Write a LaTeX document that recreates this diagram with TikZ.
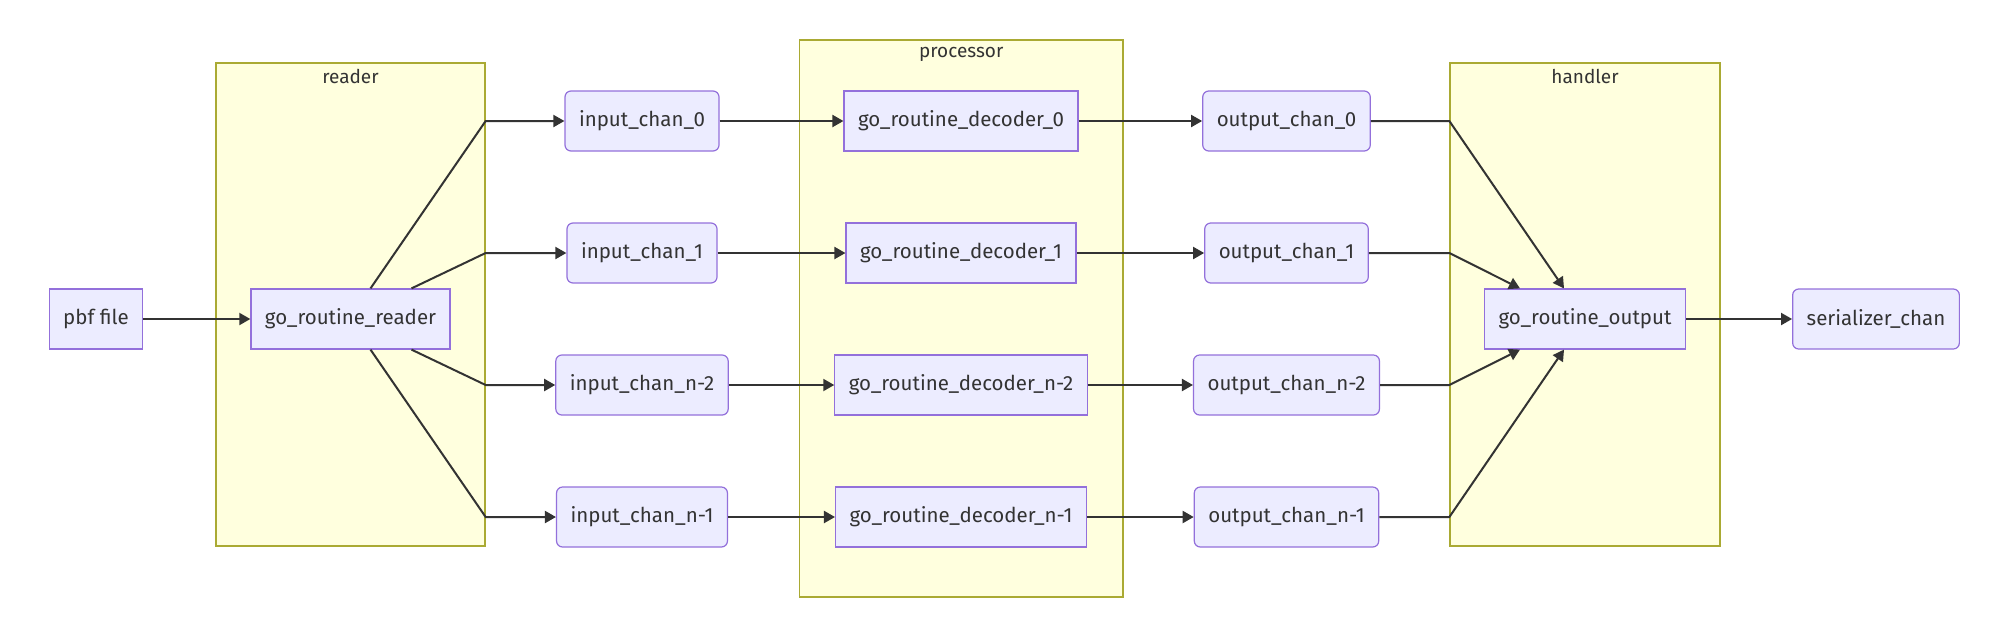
\documentclass[tikz,border=0pt]{standalone}
\usepackage{fontspec}
\setmainfont{Fira Sans}
\usetikzlibrary{arrows.meta,positioning,calc}
\definecolor{nodefill}{HTML}{ECECFF}
\definecolor{nodeline}{HTML}{9370DB}
\definecolor{groupfill}{HTML}{FFFFDE}
\definecolor{groupline}{HTML}{AAAA33}
\definecolor{ink}{HTML}{333333}

\begin{document}
\begin{tikzpicture}[
  x=1pt, y=-1pt,
  font=\fontsize{20.5}{24}\selectfont,
  >={Triangle[length=11pt,width=12pt]},
  routine/.style={
    draw=nodeline,
    fill=nodefill,
    line width=1.2pt,
    text=ink,
    minimum height=60pt,
    inner xsep=14pt
  },
  chan/.style={routine,rounded corners=6pt},
  group/.style={draw=groupline,fill=groupfill,line width=1.3pt,inner sep=0pt},
  title/.style={text=ink,font=\fontsize{19}{22}\selectfont},
  flow/.style={->,draw=ink,line width=2pt}
]
\useasboundingbox (0,0) rectangle (1999,625);
% subgraphs
\node[group,minimum width=269pt,minimum height=483pt] (readerbox) at (350.5,304.5) {};
\node[group,minimum width=323.5pt,minimum height=557pt] (procbox) at (961.25,318.5) {};
\node[group,minimum width=270pt,minimum height=483pt] (handlerbox) at (1585,304.5) {};
\node[title] (readertitle) at ([yshift=-14pt]readerbox.north) {reader};
\node[title] (proctitle) at ([yshift=-15pt]procbox.north) {processor};
\node[title] (handlertitle) at ([yshift=-14pt]handlerbox.north) {handler};
% nodes
\node[routine] (pbf) at (96,319) {pbf file};
\node[routine] (reader) at (350.5,319) {go\_routine\_reader};
\node[chan] (in0) at (642,121) {input\_chan\_0};
\node[chan] (in1) at (642,253) {input\_chan\_1};
\node[chan] (in2) at (642,385) {input\_chan\_n-2};
\node[chan] (in3) at (642,517) {input\_chan\_n-1};
\node[routine] (dec0) at (961,121) {go\_routine\_decoder\_0};
\node[routine] (dec1) at (961,253) {go\_routine\_decoder\_1};
\node[routine] (dec2) at (961,385) {go\_routine\_decoder\_n-2};
\node[routine] (dec3) at (961,517) {go\_routine\_decoder\_n-1};
\node[chan] (out0) at (1286.5,121) {output\_chan\_0};
\node[chan] (out1) at (1286.5,253) {output\_chan\_1};
\node[chan] (out2) at (1286.5,385) {output\_chan\_n-2};
\node[chan] (out3) at (1286.5,517) {output\_chan\_n-1};
\node[routine] (output) at (1585,319) {go\_routine\_output};
\node[chan] (serializer) at (1876,319) {serializer\_chan};
% edges
\draw[flow] (pbf) -- (reader);
\draw[flow] ([xshift=20pt]reader.north) -- (in0 -| readerbox.east) -- (in0);
\draw[flow] ([xshift=61pt]reader.north) -- (in1 -| readerbox.east) -- (in1);
\draw[flow] ([xshift=61pt]reader.south) -- (in2 -| readerbox.east) -- (in2);
\draw[flow] ([xshift=20pt]reader.south) -- (in3 -| readerbox.east) -- (in3);
\draw[flow] (in0) -- (dec0);
\draw[flow] (in1) -- (dec1);
\draw[flow] (in2) -- (dec2);
\draw[flow] (in3) -- (dec3);
\draw[flow] (dec0) -- (out0);
\draw[flow] (dec1) -- (out1);
\draw[flow] (dec2) -- (out2);
\draw[flow] (dec3) -- (out3);
\draw[flow] (out0) -- (out0 -| handlerbox.west) -- ([xshift=-21pt]output.north);
\draw[flow] (out1) -- (out1 -| handlerbox.west) -- ([xshift=-65pt]output.north);
\draw[flow] (out2) -- (out2 -| handlerbox.west) -- ([xshift=-65pt]output.south);
\draw[flow] (out3) -- (out3 -| handlerbox.west) -- ([xshift=-21pt]output.south);
\draw[flow] (output) -- (serializer);
\end{tikzpicture}
\end{document}
